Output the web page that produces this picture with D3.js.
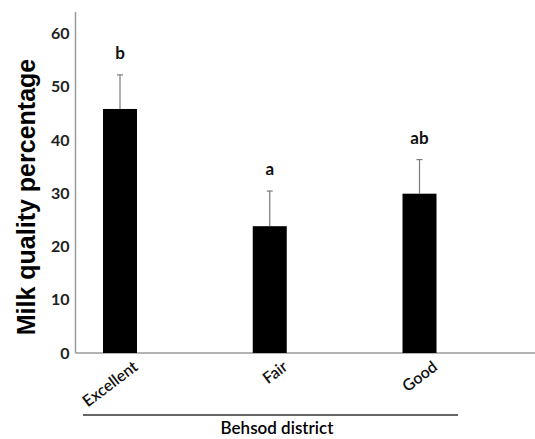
<!DOCTYPE html>
<html>
<head>
<meta charset="utf-8">
<script src="https://cdn.jsdelivr.net/npm/d3@7"></script>
<style>
  html, body { margin: 0; padding: 0; background: #fff; }
  svg { display: block; }
</style>
</head>
<body>
<svg id="chart" width="535" height="439"></svg>
<script>
// ---- data ----
const categories = ["Excellent", "Fair", "Good"];
const means = [45.8, 23.8, 29.9];
const errors = [6.4, 6.6, 6.4];
const letters = ["b", "a", "ab"];
const yTicks = [0, 10, 20, 30, 40, 50, 60];
const yTitle = "Milk quality percentage";
const xTitle = "Behsod district";

// ---- layout ----
const svg = d3.select("#chart");
const axisX = 75.5, baseY = 353, topY = 12;
const firstCenter = 120, lastCenter = 419.5;
const barW = 34;

const y = d3.scaleLinear().domain([0, 64]).range([baseY, topY]);
const x = d3.scalePoint().domain(categories).range([firstCenter, lastCenter]);

const lato = "Lato, 'Open Sans', sans-serif";

// y axis (no ticks)
const yAxis = d3.axisLeft(y).tickValues(yTicks).tickSize(0).tickPadding(6).tickFormat(d3.format("d"));
const gy = svg.append("g").attr("transform", `translate(${axisX},0)`).call(yAxis);
gy.select(".domain").attr("stroke", "#9a9a9a").attr("stroke-width", 1.5).attr("d", `M0,${topY}V${baseY}`);
gy.selectAll("text").attr("font-family", lato).attr("font-weight", "bold").attr("font-size", 16).attr("fill", "#222");

// baseline
svg.append("line")
  .attr("x1", axisX).attr("x2", 535)
  .attr("y1", baseY).attr("y2", baseY)
  .attr("stroke", "#9a9a9a").attr("stroke-width", 1.5);

// bars
svg.selectAll("rect.bar").data(categories).enter().append("rect")
  .attr("class", "bar")
  .attr("x", d => x(d) - barW / 2)
  .attr("width", barW)
  .attr("y", (d, i) => y(means[i]))
  .attr("height", (d, i) => baseY - y(means[i]))
  .attr("fill", "#000");

// error bars
const eg = svg.selectAll("g.err").data(categories).enter().append("g").attr("class", "err");
eg.append("line")
  .attr("x1", d => x(d)).attr("x2", d => x(d))
  .attr("y1", (d, i) => y(means[i]))
  .attr("y2", (d, i) => y(means[i] + errors[i]))
  .attr("stroke", "#7a7a7a").attr("stroke-width", 1.2);
eg.append("line")
  .attr("x1", d => x(d) - 3).attr("x2", d => x(d) + 3)
  .attr("y1", (d, i) => y(means[i] + errors[i]))
  .attr("y2", (d, i) => y(means[i] + errors[i]))
  .attr("stroke", "#7a7a7a").attr("stroke-width", 1.2);

// significance letters
svg.selectAll("text.letter").data(categories).enter().append("text")
  .attr("class", "letter")
  .attr("x", d => x(d))
  .attr("y", (d, i) => y(means[i] + errors[i]) - 16)
  .attr("text-anchor", "middle")
  .attr("font-family", lato).attr("font-weight", "bold").attr("font-size", 17)
  .attr("fill", "#111")
  .text((d, i) => letters[i]);

// x category labels (rotated)
svg.selectAll("text.cat").data(categories).enter().append("text")
  .attr("class", "cat")
  .attr("transform", d => `translate(${x(d) + 19},${baseY + 16}) rotate(-37)`)
  .attr("text-anchor", "end")
  .attr("font-family", lato).attr("font-weight", "600").attr("font-size", 16)
  .attr("fill", "#111")
  .text(d => d);

// group underline
svg.append("line")
  .attr("x1", 83).attr("x2", 458)
  .attr("y1", 415).attr("y2", 415)
  .attr("stroke", "#333").attr("stroke-width", 1.5);

// x title
svg.append("text")
  .attr("x", 277).attr("y", 434)
  .attr("text-anchor", "middle")
  .attr("font-family", lato).attr("font-weight", "600").attr("font-size", 17)
  .attr("fill", "#000")
  .text(xTitle);

// y title
svg.append("text")
  .attr("transform", `translate(35,${(57 + 337) / 2}) rotate(-90)`)
  .attr("text-anchor", "middle")
  .attr("font-family", "'Liberation Sans', Arial, sans-serif").attr("font-weight", "bold").attr("font-size", 25)
  .attr("fill", "#000")
  .text(yTitle);
</script>
</body>
</html>
